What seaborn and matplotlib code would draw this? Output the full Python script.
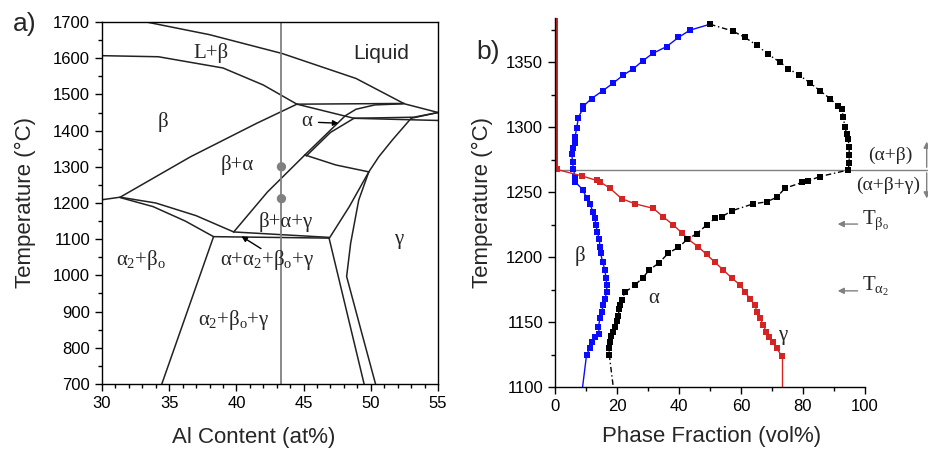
import seaborn as sns
import matplotlib.pyplot as plt
from matplotlib.ticker import MultipleLocator

sns.set_theme(style='ticks')
plt.rcParams['font.family'] = ['Liberation Sans', 'DejaVu Sans']
plt.rcParams['mathtext.fontset'] = 'custom'
plt.rcParams['mathtext.rm'] = 'Liberation Serif'
plt.rcParams['mathtext.it'] = 'Liberation Serif'
plt.rcParams['mathtext.bf'] = 'Liberation Serif:bold'

# ---- a) phase diagram boundaries (Al at%, temperature C) ----
liquidus = [(33.3, 1700), (38.0, 1665), (43.4, 1613), (48.9, 1544), (52.5, 1474), (55.0, 1450)]
beta_liquidus = [(30.0, 1607), (34.2, 1604), (39.0, 1573), (42.0, 1526), (44.5, 1473)]
peritectic_flat = [(44.5, 1473), (52.5, 1475)]
alpha_upper = [(44.5, 1473), (48.75, 1434)]
right_flat_up = [(48.75, 1434), (53.2, 1437), (55.0, 1450)]
right_flat_down = [(48.75, 1434), (55.0, 1428)]
beta_transus = [(31.35, 1216), (36.6, 1328), (41.5, 1420), (44.5, 1473)]
left_stub = [(30.0, 1209), (31.35, 1216)]
alpha_left = [(39.8, 1120), (42.3, 1230), (45.1, 1333), (48.1, 1441), (48.9, 1459), (50.3, 1471), (52.4, 1474)]
alpha_right = [(45.2, 1330), (47.0, 1395), (48.75, 1434)]
p1_p2 = [(45.07, 1333), (47.4, 1305), (49.85, 1286)]
gamma_solvus = [(49.85, 1286), (50.6, 1328), (51.6, 1374), (53.0, 1434), (55.0, 1450)]
p2_left_down = [(49.85, 1286), (48.4, 1190), (46.9, 1102)]
p2_right_down = [(49.85, 1286), (49.1, 1208), (48.5, 1089), (48.2, 997), (49.26, 850), (50.35, 700)]
p3_down = [(46.9, 1102), (49.5, 700)]
eutectoid_flat_low = [(38.3, 1107), (46.9, 1103)]
eutectoid_flat_high = [(39.8, 1120), (46.9, 1105)]
left_curve_high = [(31.35, 1216), (34.0, 1200), (37.0, 1165), (39.8, 1120)]
left_curve_low = [(31.35, 1215), (33.8, 1190), (36.2, 1150), (38.3, 1107)]
eutectoid_down = [(38.3, 1107), (34.45, 700)]

boundaries = [liquidus, beta_liquidus, peritectic_flat, alpha_upper, right_flat_up,
              right_flat_down, beta_transus, left_stub, alpha_left, alpha_right, p1_p2,
              gamma_solvus, p2_left_down, p2_right_down, p3_down, eutectoid_flat_low,
              eutectoid_flat_high, left_curve_high, left_curve_low, eutectoid_down]

alloy_al = 43.35
alloy_temps = [1300, 1212]

region_labels = ['L+β', 'β', 'β+α', 'α', 'β+α+γ', 'γ',
                 r'$\alpha_2$+$\beta_\mathrm{o}$', r'$\alpha$+$\alpha_2$+$\beta_\mathrm{o}$+$\gamma$',
                 r'$\alpha_2$+$\beta_\mathrm{o}$+$\gamma$']
region_x = [38.1, 34.5, 40.05, 45.2, 43.7, 52.1, 32.9, 42.25, 39.8]
region_t = [1613, 1425, 1305, 1425, 1148, 1098, 1043, 1043, 877]

# ---- b) phase fractions (vol%) vs temperature ----
beta_t = [1379.2, 1374.6, 1369, 1362, 1356.7, 1351, 1345, 1340, 1333.6, 1328, 1322, 1316, 1314,
          1307, 1299, 1292.5, 1288, 1284, 1279, 1273, 1268, 1262, 1258, 1252, 1245.5, 1241, 1235,
          1230, 1225, 1219.5, 1213.6, 1208, 1203, 1196, 1190, 1184, 1178.5, 1173, 1168, 1163,
          1158, 1153, 1146, 1141, 1138.7, 1135, 1130, 1125]
beta_f = [50.0, 43.5, 39.8, 36.0, 31.5, 28.3, 25.3, 22.0, 18.6, 15.4, 11.8, 9.1, 8.9,
          7.5, 7.0, 6.45, 6.3, 5.7, 5.4, 5.7, 5.9, 6.45, 6.45, 8.9, 10.2, 11.3, 12.2,
          12.9, 13.2, 13.65, 14.3, 14.5, 14.7, 15.4, 16.1, 16.45, 16.7, 16.7, 16.1, 15.6,
          15.05, 14.5, 14.0, 14.3, 12.9, 11.8, 11.3, 10.2]
beta_tail_t = [1125, 1100]
beta_tail_f = [10.2, 8.9]

alpha_t = [1379.2, 1374, 1369, 1363, 1356, 1350, 1345, 1340, 1334, 1328, 1322, 1316, 1314, 1308,
           1300, 1295, 1290.5, 1285, 1278.5, 1272.5, 1267, 1262, 1258.5, 1257.5, 1253, 1246,
           1242.5, 1241, 1235.6, 1231, 1229.8, 1224.6, 1218, 1213.6, 1207.5, 1203, 1195.6,
           1190, 1184, 1178.5, 1173, 1167, 1163, 1160, 1155, 1151, 1146, 1142.5, 1139, 1135,
           1130, 1125]
alpha_f = [50.0, 57.3, 61.3, 65.1, 68.8, 72.6, 75.3, 78.8, 82.3, 85.5, 88.7, 91.4, 92.5, 93.0,
           93.5, 94.1, 94.6, 94.9, 94.9, 94.9, 94.6, 85.5, 81.5, 79.8, 74.2, 71.5,
           68.3, 64.0, 57.0, 53.8, 51.6, 48.9, 45.7, 42.7, 39.8, 36.55, 33.6,
           30.4, 28.3, 25.8, 22.6, 21.5, 21.0, 20.75, 20.4, 19.9, 19.35, 18.6, 18.0, 17.6,
           17.5, 17.5]
alpha_tail_t = [1125, 1100]
alpha_tail_f = [17.5, 18.8]

gamma_zero_t = [1384, 1381, 1379.2, 1376, 1374.6, 1372, 1369, 1365, 1362, 1359, 1356.7, 1354, 1351,
                1348, 1345, 1342, 1340, 1336, 1333.6, 1331, 1328, 1325, 1322, 1319, 1316, 1312,
                1307, 1303, 1299, 1296, 1292.5, 1288, 1284, 1281, 1279, 1276, 1273, 1270, 1268]
gamma_t = [1267.5, 1262.5, 1259, 1258, 1253, 1245, 1241, 1237.5, 1231, 1224.6, 1218.7, 1213.6,
           1208, 1202, 1196, 1190, 1184, 1178.5, 1173, 1168, 1163, 1158, 1153, 1148, 1142.5,
           1138.7, 1135, 1130, 1124]
gamma_f = [0.5, 8.6, 13.45, 14.5, 17.7, 21.5, 25.8, 31.7, 34.9, 38.2, 40.9, 43.0,
           46.2, 48.9, 51.6, 54.3, 57.0, 59.7, 61.3, 62.9, 64.5, 65.1, 66.1, 67.2, 68.1,
           69.1, 70.2, 71.5, 73.1]
gamma_tail_t = [1124, 1100]
gamma_tail_f = [73.1, 73.1]

t_transition = 1267
t_beta_o = 1225.4
t_alpha_2 = 1174

line_col = '#222222'
grey = '#808080'
blue = '#0a0aff'
red = '#d42424'

fig = plt.figure(figsize=(9.29, 4.5), dpi=100)
axa = fig.add_axes([0.1098, 0.1467, 0.3617, 0.8044])
axb = fig.add_axes([0.5974, 0.14, 0.3337, 0.82])

# ---------------- panel a ----------------
for b in boundaries:
    xs = [p[0] for p in b]
    ts = [p[1] for p in b]
    sns.lineplot(x=xs, y=ts, sort=False, estimator=None, color=line_col, lw=1.1, ax=axa)

axa.axvline(alloy_al, color=grey, lw=1.3)
sns.scatterplot(x=[alloy_al] * len(alloy_temps), y=alloy_temps, color=grey, s=45,
                edgecolor='none', ax=axa, zorder=5)

for lab, x, t in zip(region_labels, region_x, region_t):
    axa.text(x, t, lab, fontsize=15, family='Liberation Serif', ha='center', va='center')
axa.text(50.8, 1613, 'Liquid', fontsize=15, ha='center', va='center')

axa.annotate('', xy=(47.8, 1420), xytext=(45.9, 1423),
             arrowprops=dict(arrowstyle='-|>', color='black', lw=1, mutation_scale=8))
axa.annotate('', xy=(40.2, 1112), xytext=(42.0, 1070),
             arrowprops=dict(arrowstyle='-|>', color='black', lw=1, mutation_scale=8))

axa.set_xlim(30, 55)
axa.set_ylim(700, 1700)
axa.xaxis.set_major_locator(MultipleLocator(5))
axa.xaxis.set_minor_locator(MultipleLocator(1))
axa.yaxis.set_major_locator(MultipleLocator(100))
axa.yaxis.set_minor_locator(MultipleLocator(50))
axa.set_xlabel('Al Content (at%)', fontsize=16)
axa.set_ylabel('Temperature (°C)', fontsize=16)
axa.xaxis.set_label_coords(0.45, -0.12)
axa.yaxis.set_label_coords(-0.195, 0.5)

# ---------------- panel b ----------------
sns.lineplot(x=beta_tail_f, y=beta_tail_t, sort=False, estimator=None, color=blue, lw=1, ax=axb)
sns.lineplot(x=beta_f, y=beta_t, sort=False, estimator=None, color=blue, lw=1,
             marker='s', markersize=4.5, markeredgewidth=0, ax=axb)
sns.lineplot(x=gamma_tail_f, y=gamma_tail_t, sort=False, estimator=None, color=red, lw=1, ax=axb)
sns.lineplot(x=[0] * len(gamma_zero_t), y=gamma_zero_t, sort=False, estimator=None, color=red,
             lw=1.5, marker='s', markersize=5, markeredgewidth=0, ax=axb)
sns.lineplot(x=gamma_f, y=gamma_t, sort=False, estimator=None, color=red, lw=1,
             marker='s', markersize=4.5, markeredgewidth=0, ax=axb)
sns.lineplot(x=alpha_tail_f, y=alpha_tail_t, sort=False, estimator=None, color='black', lw=1,
             linestyle=(0, (4, 2, 1, 2)), ax=axb)
sns.lineplot(x=alpha_f, y=alpha_t, sort=False, estimator=None, color='black', lw=1,
             linestyle=(0, (4, 2, 1, 2)), marker='s', markersize=4.5, markeredgewidth=0, ax=axb)

axb.plot([0, 120], [t_transition, t_transition], color=grey, lw=1, clip_on=False, zorder=1)
axb.annotate('', xy=(119.9, 1291), xytext=(119.9, 1267),
             arrowprops=dict(arrowstyle='-|>', color=grey, lw=1, mutation_scale=9),
             annotation_clip=False)
axb.annotate('', xy=(119.9, 1243), xytext=(119.9, 1267),
             arrowprops=dict(arrowstyle='-|>', color=grey, lw=1, mutation_scale=9),
             annotation_clip=False)
axb.text(108.1, 1278.5, '(α+β)', fontsize=14, family='Liberation Serif', ha='center', va='center',
         clip_on=False)
axb.text(107.4, 1255.4, '(α+β+γ)', fontsize=14, family='Liberation Serif', ha='center', va='center',
         clip_on=False)

for t, lab in [(t_beta_o, r'$\mathrm{T}_{\beta_\mathrm{o}}$'), (t_alpha_2, r'$\mathrm{T}_{\alpha_2}$')]:
    axb.annotate('', xy=(90.3, t), xytext=(98.5, t),
                 arrowprops=dict(arrowstyle='-|>', color=grey, lw=1, mutation_scale=9),
                 annotation_clip=False)
    axb.text(98.9, t, lab, fontsize=15, ha='left', va='baseline', clip_on=False)

axb.text(8.0, 1201, 'β', fontsize=15, family='Liberation Serif', ha='center', va='center')
axb.text(31.7, 1168, 'α', fontsize=15, family='Liberation Serif', ha='center', va='center')
axb.text(73.6, 1140, 'γ', fontsize=15, family='Liberation Serif', ha='center', va='center')

axb.set_xlim(0, 100)
axb.set_ylim(1100, 1384)
axb.xaxis.set_major_locator(MultipleLocator(20))
axb.xaxis.set_minor_locator(MultipleLocator(10))
axb.yaxis.set_major_locator(MultipleLocator(50))
axb.yaxis.set_minor_locator(MultipleLocator(25))
sns.despine(ax=axb)
axb.set_xlabel('Phase Fraction (vol%)', fontsize=16)
axb.set_ylabel('Temperature (°C)', fontsize=16)
axb.xaxis.set_label_coords(0.505, -0.105)
axb.yaxis.set_label_coords(-0.2, 0.5)

for ax in (axa, axb):
    ax.tick_params(which='both', direction='out', width=1, colors='black', labelsize=12)
    ax.tick_params(which='major', length=5)
    ax.tick_params(which='minor', length=3, bottom=True, left=True)
    for s in ax.spines.values():
        s.set_color('black')
        s.set_linewidth(1)

fig.text(0.027, 0.946, 'a)', fontsize=19, ha='center', va='center')
fig.text(0.525, 0.884, 'b)', fontsize=19, ha='center', va='center')

fig.savefig('out.png', dpi=100)
